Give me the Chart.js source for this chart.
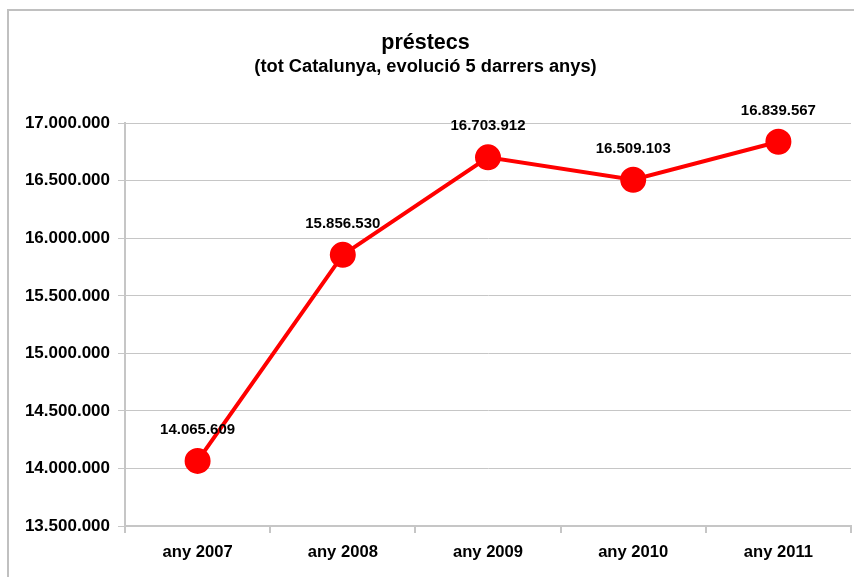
<!DOCTYPE html>
<html>
<head>
<meta charset="utf-8">
<title>préstecs</title>
<script src="https://cdn.jsdelivr.net/npm/chart.js@4.4.1/dist/chart.umd.min.js"></script>
<style>
    body { margin: 0; background: #fff; overflow: hidden; }
    .wrap { position: relative; width: 854px; height: 577px; }
    .frame { position: absolute; left: 7px; top: 9px; right: 0; bottom: 0; border-left: 2px solid #c0c0c0; border-top: 2px solid #c0c0c0; }
    canvas { position: absolute; left: 0; top: 0; }
</style>
</head>
<body>
<div class="wrap">
    <div class="frame"></div>
    <canvas id="prestecsChart" width="854" height="577"></canvas>
</div>
<script>
const years = ['any 2007', 'any 2008', 'any 2009', 'any 2010', 'any 2011'];
const prestecs = [14065609, 15856530, 16703912, 16509103, 16839567];
const yMin = 13500000;
const yMax = 17000000;
const yStep = 500000;

const fontFamily = '"Liberation Sans", Arial, sans-serif';
const gridGray = '#c6c6c6';

// 16839567 -> 16.839.567
const withDots = (v) => String(Math.round(v)).replace(/\B(?=(\d{3})+(?!\d))/g, '.');

const valueLabels = {
    id: 'valueLabels',
    afterDatasetsDraw(chart) {
        const ctx = chart.ctx;
        const meta = chart.getDatasetMeta(0);
        ctx.save();
        ctx.font = 'bold 15px ' + fontFamily;
        ctx.fillStyle = '#000';
        ctx.textAlign = 'center';
        ctx.textBaseline = 'middle';
        meta.data.forEach((pt, i) => {
            ctx.fillText(withDots(chart.data.datasets[0].data[i]), pt.x, pt.y - 31);
        });
        ctx.restore();
    }
};

new Chart(document.getElementById('prestecsChart'), {
    type: 'line',
    data: {
        labels: years,
        datasets: [{
            label: 'préstecs',
            data: prestecs,
            borderColor: '#ff0000',
            backgroundColor: '#ff0000',
            borderWidth: 4,
            pointRadius: 11,
            pointHoverRadius: 11,
            pointBackgroundColor: '#ff0000',
            pointBorderColor: '#ff0000',
            tension: 0,
            fill: false
        }]
    },
    options: {
        responsive: false,
        animation: false,
        layout: { autoPadding: false, padding: { left: 0, right: 3, top: 0, bottom: 0 } },
        plugins: {
            legend: { display: false },
            tooltip: { enabled: false },
            title: {
                display: true,
                text: 'préstecs',
                color: '#000',
                font: { family: fontFamily, size: 21.5, weight: 'bold' },
                padding: { top: 30, bottom: 0 }
            },
            subtitle: {
                display: true,
                text: '(tot Catalunya, evolució 5 darrers anys)',
                color: '#000',
                font: { family: fontFamily, size: 18.3, weight: 'bold' },
                padding: { top: 0, bottom: 45.5 }
            }
        },
        scales: {
            x: {
                offset: true,
                afterFit(scale) {
                    scale.height = 51;
                    scale.paddingLeft = 0;
                    scale.paddingRight = 0;
                },
                grid: {
                    offset: true,
                    drawOnChartArea: false,
                    color: gridGray,
                    lineWidth: 2,
                    tickLength: 7
                },
                border: { color: gridGray, width: 2 },
                ticks: {
                    color: '#000',
                    padding: 9,
                    font: { family: fontFamily, size: 16.6, weight: 'bold' }
                }
            },
            y: {
                min: yMin,
                max: yMax,
                afterFit(scale) { scale.width = 125; },
                grid: {
                    color: gridGray,
                    lineWidth: 1,
                    tickLength: 7
                },
                border: { color: gridGray, width: 2 },
                ticks: {
                    stepSize: yStep,
                    color: '#000',
                    padding: 8,
                    font: { family: fontFamily, size: 17, weight: 'bold' },
                    callback: (v) => withDots(v)
                }
            }
        }
    },
    plugins: [valueLabels]
});
</script>
</body>
</html>
